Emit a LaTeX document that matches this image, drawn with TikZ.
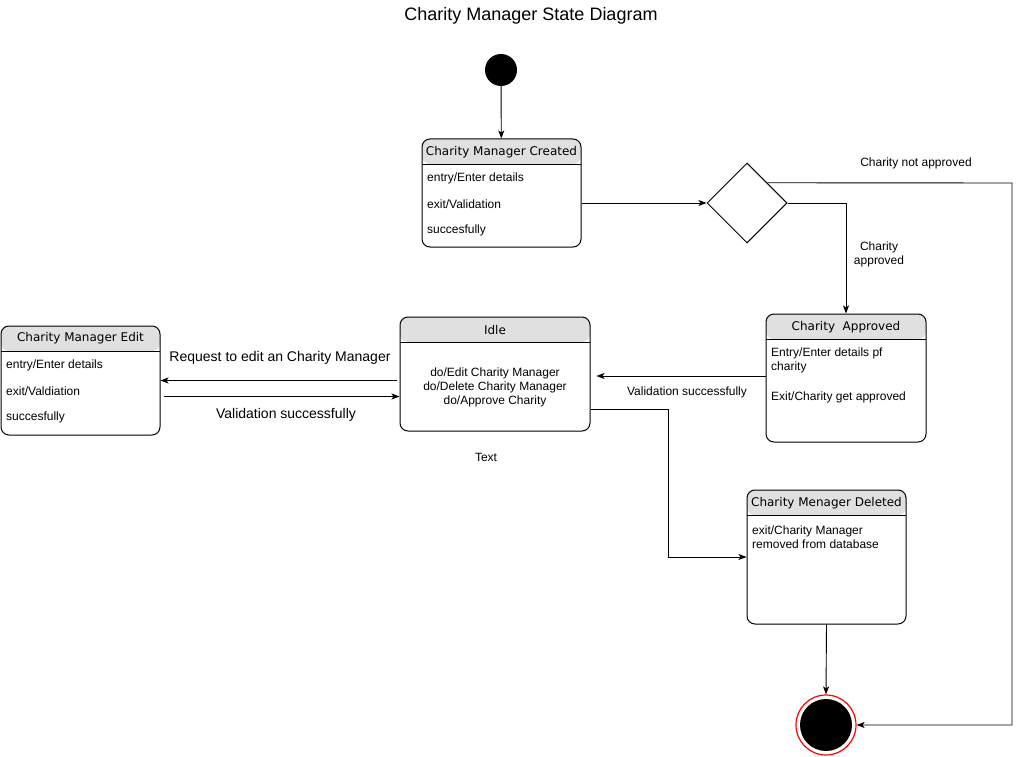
\documentclass[tikz,border=0pt]{standalone}
\usepackage{fontspec}
\setmainfont{Liberation Sans}
\newfontfamily\headfont{DejaVu Sans}
\usetikzlibrary{arrows.meta, shapes.geometric}

\definecolor{headgray}{HTML}{E0E0E0}

\begin{document}
\begin{tikzpicture}[
    x=1pt, y=-1pt,
    statebox/.style={
        draw, line width=1pt, rounded corners=8pt, inner sep=0pt,
        path picture={
          \fill[headgray] (path picture bounding box.north west)
               rectangle ([yshift=-25pt]path picture bounding box.north east);
          \draw[line width=0.9pt] ([yshift=-25pt]path picture bounding box.north west)
               -- ([yshift=-25pt]path picture bounding box.north east);
        }},
    headtext/.style={font=\headfont\fontsize{12}{14}\selectfont, inner sep=0pt},
    bodytext/.style={font=\fontsize{12}{14}\selectfont, inner sep=0pt, anchor=west, align=left},
    labeltext/.style={font=\fontsize{12}{14}\selectfont, inner sep=0pt, align=center},
    bigtext/.style={font=\fontsize{14}{16}\selectfont, inner sep=0pt},
    arr/.style={-{Stealth[length=8pt, width=6pt, inset=2pt]}, line width=0.9pt}
  ]
  \useasboundingbox (0,0) rectangle (1021,757);

  \node[font=\fontsize{18}{20}\selectfont, inner sep=0pt] (title) at (531,16) {Charity Manager State Diagram};

  % initial and final states
  \node[circle, fill=black, minimum size=32pt, inner sep=0pt] (start) at (501,70) {};
  \node[circle, draw=red, line width=1.2pt, fill=white, minimum size=60pt, inner sep=0pt,
        path picture={\fill[black] (path picture bounding box.center) circle (26pt);}] (end) at (826,725) {};

  % states
  \node[statebox, minimum width=159pt, minimum height=108pt] (created) at (501.5,193) {};
  \node[headtext] (createdT) at ([yshift=-13.5pt]created.north) {Charity Manager Created};
  \node[bodytext] (createdA) at (427,178) {entry/Enter details};
  \node[bodytext] (createdB) at (427,204) {exit/Validation};
  \node[bodytext] (createdC) at (427,230) {succesfully};

  \node[diamond, draw, line width=1pt, minimum width=80pt, minimum height=80pt, inner sep=0pt] (choice) at (747,203) {};

  \node[statebox, minimum width=160pt, minimum height=128pt] (approved) at (846,378) {};
  \node[headtext] (approvedT) at ([yshift=-13.5pt]approved.north) {Charity\ \ Approved};
  \node[bodytext] (approvedA) at (771,360) {Entry/Enter details pf\\charity};
  \node[bodytext] (approvedB) at (771,397) {Exit/Charity get approved};

  \node[statebox, minimum width=190pt, minimum height=114pt] (idle) at (495,374) {};
  \node[headtext] (idleT) at ([yshift=-13.5pt]idle.north) {Idle};
  \node[labeltext] (idleA) at (495,387.5) {do/Edit Charity Manager\\do/Delete Charity Manager\\do/Approve Charity};

  \node[statebox, minimum width=159pt, minimum height=109pt] (edit) at (80.5,380.5) {};
  \node[headtext] (editT) at ([yshift=-13pt]edit.north) {Charity Manager Edit};
  \node[bodytext] (editA) at (6,365) {entry/Enter details};
  \node[bodytext] (editB) at (6,391) {exit/Valdiation};
  \node[bodytext] (editC) at (6,417) {succesfully};

  \node[statebox, minimum width=159pt, minimum height=134pt] (deleted) at (826.5,557) {};
  \node[headtext] (deletedT) at ([yshift=-14pt]deleted.north) {Charity Menager Deleted};
  \node[bodytext] (deletedA) at (752,537) {exit/Charity Manager\\removed from database};

  % transitions
  \coordinate (rightrail) at (1012,183);
  \draw[arr] (start) -- (created);
  \draw[arr] (created.east |- choice.west) -- (choice.west);
  \draw[arr] (choice.north east) -- (rightrail) |- (end.east);
  \draw[arr] (choice.east) -| (approved.north);
  \draw[arr, shorten >=6pt] (approved.west |- 0,376) -- (idle.east |- 0,376);
  \draw[arr, shorten <=3pt] (idle.west |- edit.east) -- (edit.east);
  \draw[arr, shorten <=3pt] ([yshift=-16pt]edit.east) -- ([yshift=-16pt]edit.east -| idle.west);
  \draw[arr] ([yshift=-35pt]idle.east) -- ++(78,0) |- (deleted.west);
  \draw[arr] (deleted.south) -- (end.north);

  % labels
  \node[labeltext] (notLbl) at (916,163) {Charity not approved};
  \node[labeltext] (yesLbl) at (879,254) {Charity\\approved};
  \node[labeltext] (valLbl) at (687,392) {Validation successfully};
  \node[bigtext] (reqLbl) at (280,358) {Request to edit an Charity Manager};
  \node[bigtext] (backLbl) at (286,415) {Validation successfully};
  \node[labeltext] (textLbl) at (486,457) {Text};

\end{tikzpicture}
\end{document}
